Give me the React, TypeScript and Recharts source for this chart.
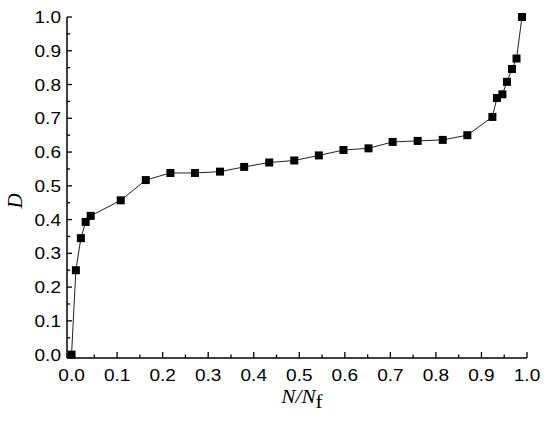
import React from 'react'
import { LineChart, Line, XAxis, YAxis } from 'recharts'

// N/Nf and damage D
const cycleRatio = [
  0, 0.0095, 0.0205, 0.031, 0.042, 0.108, 0.163, 0.217, 0.271, 0.326, 0.379, 0.434, 0.489, 0.543,
  0.597, 0.652, 0.705, 0.76, 0.815, 0.869, 0.924, 0.934, 0.946, 0.956, 0.967, 0.977, 0.989,
]
const damage = [
  0, 0.25, 0.345, 0.393, 0.411, 0.457, 0.517, 0.538, 0.538, 0.542, 0.556, 0.569, 0.575, 0.59,
  0.606, 0.611, 0.63, 0.633, 0.636, 0.65, 0.704, 0.76, 0.771, 0.808, 0.846, 0.877, 1.0,
]

// major ticks every 0.1, minor ticks in between
const axisTicks = [
  0, 0.05, 0.1, 0.15, 0.2, 0.25, 0.3, 0.35, 0.4, 0.45, 0.5, 0.55, 0.6, 0.65, 0.7, 0.75, 0.8, 0.85,
  0.9, 0.95, 1.0,
]

const data = cycleRatio.map((x, i) => ({ x, d: damage[i] }))

const SANS = '"Liberation Sans", Arial, sans-serif'
const SERIF = '"Liberation Serif", "Times New Roman", serif'
const STRETCH = 1.12

const isMajor = (v: number) => Math.round(v * 100) % 10 === 0

function XTick({ x, y, payload }: any) {
  const major = isMajor(payload.value)
  return (
    <g>
      <line x1={x} y1={y} x2={x} y2={y - (major ? 6 : 3.5)} stroke="#000" strokeWidth={1.3} />
      {major && (
        <text
          transform={`translate(${x},${y + 23}) scale(${STRETCH},1)`}
          textAnchor="middle"
          fontFamily={SANS}
          fontSize={17}
          fill="#000"
        >
          {payload.value.toFixed(1)}
        </text>
      )}
    </g>
  )
}

function YTick({ x, y, payload }: any) {
  const major = isMajor(payload.value)
  return (
    <g>
      <line x1={x} y1={y} x2={x + (major ? 5 : 3)} y2={y} stroke="#000" strokeWidth={1.3} />
      {major && (
        <text
          transform={`translate(${x - 6},${y + 6}) scale(${STRETCH},1)`}
          textAnchor="end"
          fontFamily={SANS}
          fontSize={17}
          fill="#000"
        >
          {payload.value.toFixed(1)}
        </text>
      )}
    </g>
  )
}

function SquareDot({ cx, cy, index }: any) {
  return <rect key={index} x={cx - 4} y={cy - 4} width={8} height={8} fill="#000" />
}

export default function App() {
  return (
    <div style={{ position: 'absolute', left: 0, top: 0 }}>
      <LineChart width={550} height={428} data={data} margin={{ top: 17, right: 23, left: 7, bottom: 10 }}>
        <XAxis
          type="number"
          dataKey="x"
          domain={[-0.01, 1]}
          ticks={axisTicks}
          interval={0}
          height={60}
          tickSize={0}
          tickMargin={0}
          tickLine={false}
          axisLine={{ stroke: '#000', strokeWidth: 1.5 }}
          tick={<XTick />}
          label={{
            content: () => (
              <text
                transform={`translate(302,403) scale(${STRETCH},1)`}
                textAnchor="middle"
                fontFamily={SERIF}
                fontSize={19}
                fill="#000"
              >
                <tspan fontStyle="italic">N/N</tspan>
                <tspan dy={5}>f</tspan>
              </text>
            ),
          }}
        />
        <YAxis
          type="number"
          dataKey="d"
          domain={[-0.01, 1]}
          ticks={axisTicks}
          interval={0}
          width={60}
          tickSize={0}
          tickMargin={0}
          tickLine={false}
          axisLine={{ stroke: '#000', strokeWidth: 1.5 }}
          tick={<YTick />}
          label={{
            content: () => (
              <text
                transform="translate(22,201) rotate(-90)"
                textAnchor="middle"
                fontFamily={SERIF}
                fontStyle="italic"
                fontSize={21}
                fill="#000"
              >
                D
              </text>
            ),
          }}
        />
        <Line
          type="linear"
          dataKey="d"
          stroke="#222"
          strokeWidth={1}
          dot={<SquareDot />}
          activeDot={false}
          isAnimationActive={false}
        />
      </LineChart>
    </div>
  )
}
